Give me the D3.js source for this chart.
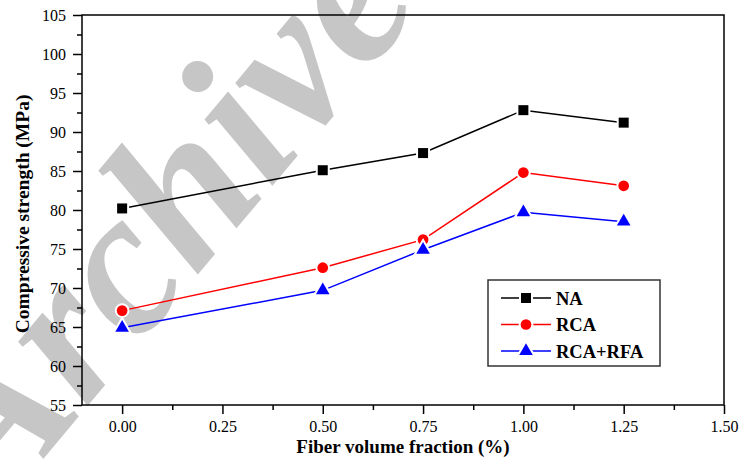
<!DOCTYPE html>
<html>
<head>
<meta charset="utf-8">
<script src="https://cdn.jsdelivr.net/npm/d3@7"></script>
<style>
  text { font-family: 'Liberation Serif' !important; }
</style>
</head>
<body style="margin:0">
<script>
const fractions = [0, 0.5, 0.75, 1.0, 1.25]
const naValues = [80.2, 85.1, 87.3, 92.8, 91.2]
const rcaValues = [67.1, 72.6, 76.2, 84.8, 83.1]
const rcaRfaValues = [64.9, 69.7, 74.9, 79.7, 78.5]
const seriesNames = ['NA', 'RCA', 'RCA+RFA']
const xTicks = [0, 0.25, 0.5, 0.75, 1.0, 1.25, 1.5]
const yTicks = [55, 60, 65, 70, 75, 80, 85, 90, 95, 100, 105]

const width = 740,
      height = 460
const margin = { top: 15, right: 16, bottom: 55, left: 82 }

const svg = d3.select('body')
  .append('svg')
  .attr('width', width)
  .attr('height', height)
  .attr('font-family', 'Liberation Serif')

// watermark sits behind the plot
svg.append('text')
  .attr('transform', 'translate(210,260) rotate(-50)')
  .attr('text-anchor', 'middle')
  .attr('font-size', 206)
  .attr('font-weight', 'bold')
  .attr('font-style', 'italic')
  .attr('fill', '#c6c6c6')
  .text('Archive')

const x = d3.scaleLinear()
  .domain([-0.1, 1.5])
  .range([margin.left, width - margin.right])

const y = d3.scaleLinear()
  .domain([55, 105])
  .range([height - margin.bottom, margin.top])

const minorX = [0.125, 0.375, 0.625, 0.875, 1.125, 1.375]
const minorY = d3.range(57.5, 105, 5)

// minor ticks
svg.append('g')
  .attr('transform', 'translate(0,' + y(55) + ')')
  .call(d3.axisBottom(x).tickValues(minorX).tickSize(5).tickFormat(''))
  .call(function(g) { g.select('.domain').remove() })
svg.append('g')
  .attr('transform', 'translate(' + x(-0.1) + ',0)')
  .call(d3.axisLeft(y).tickValues(minorY).tickSize(5).tickFormat(''))
  .call(function(g) { g.select('.domain').remove() })

const xAxis = svg.append('g')
  .attr('transform', 'translate(0,' + y(55) + ')')
  .call(d3.axisBottom(x).tickValues(xTicks).tickSize(9).tickPadding(7).tickFormat(d3.format('.2f')))
xAxis.select('.domain').remove()

const yAxis = svg.append('g')
  .attr('transform', 'translate(' + x(-0.1) + ',0)')
  .call(d3.axisLeft(y).tickValues(yTicks).tickSize(9).tickPadding(7))
yAxis.select('.domain').remove()

svg.selectAll('g').attr('font-family', 'Liberation Serif').attr('font-size', 16)
svg.selectAll('.tick text').attr('fill', '#000')
svg.selectAll('.tick line').attr('stroke-width', 1.5)

// frame
svg.append('rect')
  .attr('x', x(-0.1))
  .attr('y', y(105))
  .attr('width', x(1.5) - x(-0.1))
  .attr('height', y(55) - y(105))
  .attr('fill', 'none')
  .attr('stroke', '#000')
  .attr('stroke-width', 1.5)

svg.append('text')
  .attr('x', (x(-0.1) + x(1.5)) / 2)
  .attr('y', 453)
  .attr('text-anchor', 'middle')
  .attr('font-size', 19)
  .attr('font-weight', 'bold')
  .text('Fiber volume fraction (%)')

svg.append('text')
  .attr('transform', 'translate(29,' + y(79.5) + ') rotate(-90)')
  .attr('text-anchor', 'middle')
  .attr('font-size', 19.5)
  .attr('font-weight', 'bold')
  .text('Compressive strength (MPa)')

const series = [
  { name: seriesNames[0], values: naValues, color: '#000000', shape: d3.symbolSquare },
  { name: seriesNames[1], values: rcaValues, color: '#ff0000', shape: d3.symbolCircle },
  { name: seriesNames[2], values: rcaRfaValues, color: '#0000ff', shape: d3.symbolTriangle }
]

const line = d3.line()
  .x(function(d) { return x(d[0]) })
  .y(function(d) { return y(d[1]) })

function symbolSize(shape) {
  if (shape === d3.symbolSquare) return 100
  if (shape === d3.symbolCircle) return 90
  return 80
}

series.forEach(function(s) {
  const pts = fractions.map(function(f, i) { return [f, s.values[i]] })
  svg.append('path')
    .datum(pts)
    .attr('d', line)
    .attr('fill', 'none')
    .attr('stroke', s.color)
    .attr('stroke-width', 1.5)
  svg.selectAll(null)
    .data(pts)
    .enter().append('path')
    .attr('d', d3.symbol().type(s.shape).size(symbolSize(s.shape)))
    .attr('transform', function(d) { return 'translate(' + x(d[0]) + ',' + y(d[1]) + ')' })
    .attr('fill', s.color)
    .attr('stroke', '#fff')
    .attr('stroke-width', 4)
    .attr('paint-order', 'stroke')
})

// legend
const legend = svg.append('g').attr('transform', 'translate(488,280)')
legend.append('rect')
  .attr('width', 172)
  .attr('height', 86)
  .attr('fill', '#fff')
  .attr('stroke', '#333')
  .attr('stroke-width', 1.5)

series.forEach(function(s, i) {
  const row = legend.append('g').attr('transform', 'translate(0,' + (18 + i * 26.5) + ')')
  row.append('line')
    .attr('x1', 13).attr('x2', 63)
    .attr('stroke', s.color)
    .attr('stroke-width', 1.5)
  row.append('path')
    .attr('d', d3.symbol().type(s.shape).size(symbolSize(s.shape)))
    .attr('transform', 'translate(38,0)')
    .attr('fill', s.color)
    .attr('stroke', '#fff')
    .attr('stroke-width', 4)
    .attr('paint-order', 'stroke')
  row.append('text')
    .attr('x', 68)
    .attr('y', 6.5)
    .attr('font-size', 18.5)
    .attr('font-weight', 'bold')
    .text(s.name)
})
</script>
</body>
</html>
